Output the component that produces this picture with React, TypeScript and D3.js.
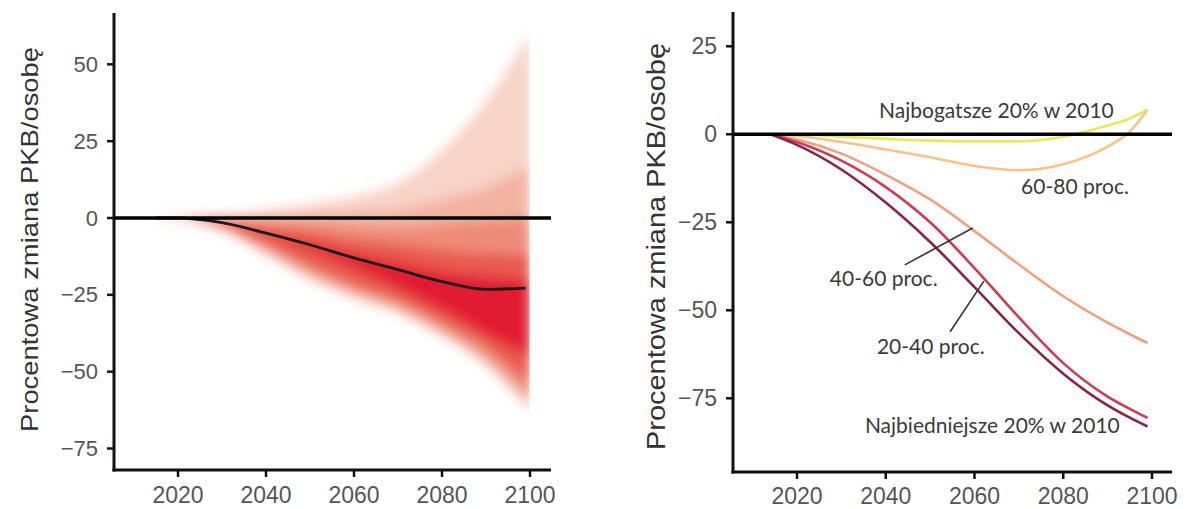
import React from "react";
import * as d3 from "d3";

// ---------- Left panel data (fan chart) ----------
const bandYears = [2015, 2020, 2030, 2040, 2050, 2060, 2070, 2080, 2090, 2100];
// nested bands: [lower, upper] per layer, outer -> inner
const l1Low = [0, -0.3, -4, -12, -20, -26, -31, -38.5, -48, -63];
const l1High = [0, 0.3, 1, 2.5, 4.5, 7, 11.5, 22, 38, 60];
const l2Low = [0, -0.3, -3.6, -11, -19, -25, -30, -37.5, -47, -61];
const l2High = [0, 0.2, 0.5, 1, 1.5, 2, 3, 6, 10, 17];
const l3Low = [0, -0.2, -3.2, -10, -17.5, -23.5, -28.5, -36, -45, -58.5];
const l3High = [0, 0.1, -0.3, -1, -1.5, -2.5, -3, -2, -1, 0];
const l4Low = [0, -0.2, -2.6, -8.5, -15.5, -22, -27, -34, -42, -54];
const l4High = [0, 0, -0.9, -3, -4.5, -7, -8.5, -10.5, -11.5, -12];
const l5Low = [0, -0.1, -2, -5.8, -10.5, -16.5, -23, -30, -38, -45];
const l5High = [0, 0, -1.6, -4.6, -8.2, -11.5, -14.5, -17.5, -19, -20];
const bandColors = ["#f8d3c7", "#f3b3a2", "#ee8b78", "#e95a50", "#e11c31"];

const meanYears = [2015, 2020, 2030, 2040, 2050, 2060, 2070, 2080, 2090, 2099];
const meanValues = [0, 0, -1.5, -4.9, -8.7, -13, -16.8, -20.7, -23.2, -22.8];

const leftYTicks = [50, 25, 0, -25, -50, -75];
const xTicks = [2020, 2040, 2060, 2080, 2100];
const rightYTicks = [25, 0, -25, -50, -75];

// ---------- Right panel data (quintile lines) ----------
const lineYears = [2014, 2020, 2030, 2040, 2050, 2060, 2070, 2080, 2090, 2095, 2099];
const poorest = [0, -3, -10, -19.4, -30.6, -43.4, -56.5, -68, -77, -80.5, -83];
const q20_40 = [0, -2.2, -7.5, -15, -25, -38, -52, -65, -74.5, -78, -80.6];
const q40_60 = [0, -1.5, -5.5, -11.5, -18.5, -27.5, -37, -46, -53.5, -56.8, -59.3];
const q60_80 = [0, -0.5, -2.2, -4.3, -6.5, -9, -10.2, -8.5, -3.5, 0.8, 7];
const richest = [0, 0, -0.7, -1.3, -1.8, -2, -2, -0.7, 2.5, 4.5, 7];
const lineColors = ["#e6e95a", "#f5c48e", "#f0a07f", "#cf3c4d", "#8a2346"];

const labelTexts = ["Najbogatsze 20% w 2010", "60-80 proc.", "40-60 proc.", "20-40 proc.", "Najbiedniejsze 20% w 2010"];
const labelYears = [2038.5, 2070.5, 2027.4, 2038, 2035.3];
const labelValues = [4.6, -17, -43.1, -62.4, -84.9];
// leader lines: [year1, value1, year2, value2]
const leaders = [
  [2044.3, -37.1, 2059.6, -26.6],
  [2054.5, -56.1, 2062.1, -41.7],
];

const yTitle = "Procentowa zmiana PKB/osobę";

export default function App() {
  // left scales
  const xL = d3.scaleLinear().domain([2020, 2100]).range([178, 530]);
  const yL = d3.scaleLinear().domain([0, -75]).range([218, 448.5]);
  // right scales
  const xR = d3.scaleLinear().domain([2020, 2100]).range([797, 1152]);
  const yR = d3.scaleLinear().domain([0, -75]).range([134.3, 398.3]);

  const layers = [
    [l1Low, l1High],
    [l2Low, l2High],
    [l3Low, l3High],
    [l4Low, l4High],
    [l5Low, l5High],
  ];
  const area = (lo: number[], hi: number[]) =>
    d3
      .area<number>()
      .x((i) => xL(bandYears[i]))
      .y0((i) => yL(lo[i]))
      .y1((i) => yL(hi[i]))
      .curve(d3.curveMonotoneX)(bandYears.map((_, i) => i)) || "";

  const meanPath =
    d3
      .line<number>()
      .x((i) => xL(meanYears[i]))
      .y((i) => yL(meanValues[i]))
      .curve(d3.curveMonotoneX)(meanYears.map((_, i) => i)) || "";

  const series = [richest, q60_80, q40_60, q20_40, poorest];
  const linePath = (vals: number[]) =>
    d3
      .line<number>()
      .x((i) => xR(lineYears[i]))
      .y((i) => yR(vals[i]))
      .curve(d3.curveMonotoneX)(lineYears.map((_, i) => i)) || "";

  const tickFont = "'Liberation Sans', Arial, sans-serif";
  const tickColor = "#555";

  const lAxisX = 114;
  const lAxisY = 470;
  const rAxisX = 733;
  const rAxisY = 472;

  return (
    <div style={{ position: "fixed", left: 0, top: 0 }}>
      <svg width={1187} height={509} style={{ display: "block", background: "#fff" }}>
        <defs>
          <filter id="soft" x="-10%" y="-10%" width="120%" height="120%">
            <feGaussianBlur stdDeviation="6" />
          </filter>
          <clipPath id="bandClip">
            <rect x={0} y={0} width={xL(2099.9)} height={509} />
          </clipPath>
        </defs>

        {/* ---------- LEFT PANEL ---------- */}
        <g clipPath="url(#bandClip)">
          <g filter="url(#soft)">
            {layers.map(([lo, hi], k) => (
              <path key={k} d={area(lo, hi)} fill={bandColors[k]} />
            ))}
          </g>
        </g>
        <path d={meanPath} fill="none" stroke="#1a1a1a" strokeWidth={2.8} />
        <line x1={lAxisX} x2={551} y1={yL(0)} y2={yL(0)} stroke="#000" strokeWidth={3.5} />

        {/* axes */}
        <line x1={lAxisX} x2={lAxisX} y1={13} y2={lAxisY + 1.5} stroke="#111" strokeWidth={3} />
        <line x1={lAxisX - 1.5} x2={551} y1={lAxisY} y2={lAxisY} stroke="#111" strokeWidth={3} />
        {leftYTicks.map((t) => (
          <g key={"ly" + t}>
            <line x1={lAxisX - 7} x2={lAxisX} y1={yL(t)} y2={yL(t)} stroke="#111" strokeWidth={2.5} />
            <text x={lAxisX - 16} y={yL(t)} textAnchor="end" dominantBaseline="central" fontFamily={tickFont} fontSize={22} fill={tickColor}>
              {t < 0 ? "\u2212" + Math.abs(t) : t}
            </text>
          </g>
        ))}
        {xTicks.map((t) => (
          <g key={"lx" + t}>
            <line x1={xL(t)} x2={xL(t)} y1={lAxisY} y2={lAxisY + 7} stroke="#111" strokeWidth={2.5} />
            <text x={xL(t)} y={495} textAnchor="middle" dominantBaseline="central" fontFamily={tickFont} fontSize={23} fill={tickColor}>
              {t}
            </text>
          </g>
        ))}
        <text
          transform={`translate(29, 239.5) rotate(-90)`}
          textAnchor="middle"
          dominantBaseline="central"
          fontFamily={tickFont}
          fontSize={24}
          fill="#333"
          textLength={385}
          lengthAdjust="spacingAndGlyphs"
        >
          {yTitle}
        </text>

        {/* ---------- RIGHT PANEL ---------- */}
        {series.map((vals, k) => (
          <path key={k} d={linePath(vals)} fill="none" stroke={lineColors[k]} strokeWidth={2.6} />
        ))}
        <line x1={rAxisX} x2={1172} y1={yR(0)} y2={yR(0)} stroke="#000" strokeWidth={3.5} />

        {leaders.map((l, k) => (
          <line key={"ld" + k} x1={xR(l[0])} y1={yR(l[1])} x2={xR(l[2])} y2={yR(l[3])} stroke="#333" strokeWidth={1.6} />
        ))}
        {labelTexts.map((s, k) => (
          <text key={"lb" + k} x={xR(labelYears[k])} y={yR(labelValues[k])} fontFamily="Lato, 'Open Sans', sans-serif" fontSize={21} fill="#3a3a3a">
            {s}
          </text>
        ))}

        <line x1={rAxisX} x2={rAxisX} y1={12} y2={rAxisY + 1.5} stroke="#111" strokeWidth={3} />
        <line x1={rAxisX - 1.5} x2={1172} y1={rAxisY} y2={rAxisY} stroke="#111" strokeWidth={3} />
        {rightYTicks.map((t) => (
          <g key={"ry" + t}>
            <line x1={rAxisX - 7} x2={rAxisX} y1={yR(t)} y2={yR(t)} stroke="#111" strokeWidth={2.5} />
            <text x={rAxisX - 16} y={yR(t)} textAnchor="end" dominantBaseline="central" fontFamily={tickFont} fontSize={23} fill={tickColor}>
              {t < 0 ? "\u2212" + Math.abs(t) : t}
            </text>
          </g>
        ))}
        {xTicks.map((t) => (
          <g key={"rx" + t}>
            <line x1={xR(t)} x2={xR(t)} y1={rAxisY} y2={rAxisY + 7} stroke="#111" strokeWidth={2.5} />
            <text x={xR(t)} y={496} textAnchor="middle" dominantBaseline="central" fontFamily={tickFont} fontSize={23} fill={tickColor}>
              {t}
            </text>
          </g>
        ))}
        <text
          transform={`translate(656, 246.5) rotate(-90)`}
          textAnchor="middle"
          dominantBaseline="central"
          fontFamily={tickFont}
          fontSize={25}
          fill="#333"
          textLength={407}
          lengthAdjust="spacingAndGlyphs"
        >
          {yTitle}
        </text>
      </svg>
    </div>
  );
}
